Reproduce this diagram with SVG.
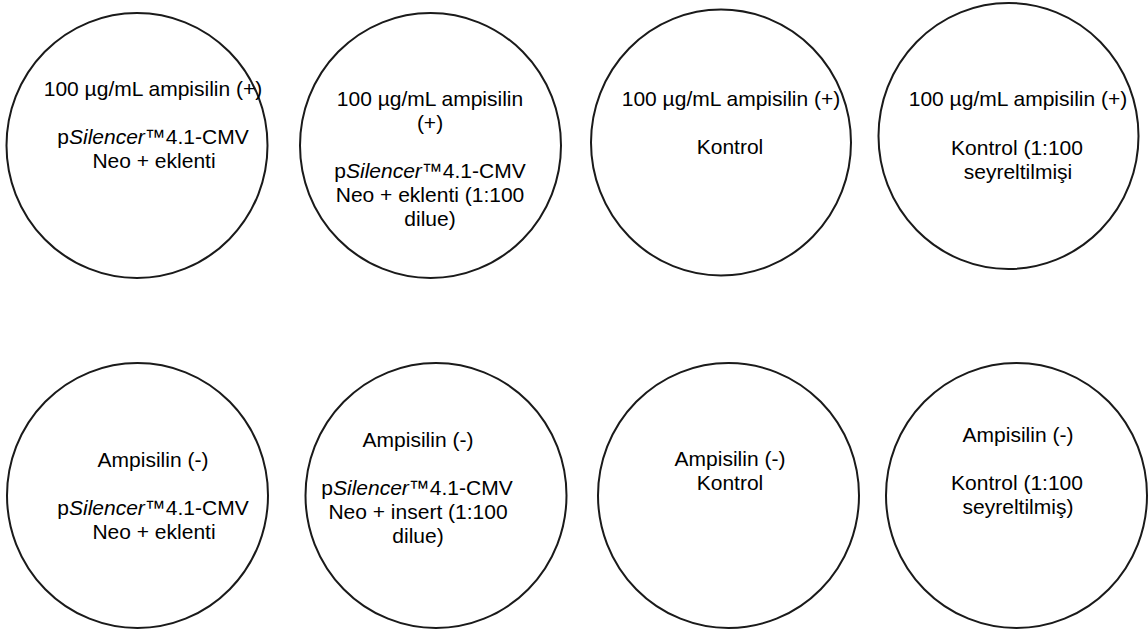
<svg xmlns="http://www.w3.org/2000/svg" width="1148" height="633" viewBox="0 0 1148 633">
<style>
.plate{fill:#ffffff;stroke:#1a1a1a;stroke-width:2}
.t{font-family:"Liberation Sans",Arial,sans-serif;font-size:21px;fill:#000000;text-anchor:middle}
.i{font-style:italic}
</style>
<rect x="0" y="0" width="1148" height="633" fill="#ffffff"/>
<g id="connectors"></g>
<g id="plate1">
<ellipse class="plate" cx="137" cy="145.5" rx="130.5" ry="132.5"/>
<text class="t" x="153" y="96">100 µg/mL ampisilin (+)</text>
<text class="t" x="153" y="144">p<tspan class="i">Silencer</tspan>™4.1-CMV</text>
<text class="t" x="154" y="168">Neo + eklenti</text>
</g>
<g id="plate2">
<ellipse class="plate" cx="430.5" cy="145.5" rx="130.5" ry="132.5"/>
<text class="t" x="430" y="106">100 µg/mL ampisilin</text>
<text class="t" x="430" y="130">(+)</text>
<text class="t" x="430" y="178">p<tspan class="i">Silencer</tspan>™4.1-CMV</text>
<text class="t" x="430" y="202">Neo + eklenti (1:100</text>
<text class="t" x="430" y="226">dilue)</text>
</g>
<g id="plate3">
<ellipse class="plate" cx="721" cy="142.5" rx="130" ry="133"/>
<text class="t" x="731" y="106">100 µg/mL ampisilin (+)</text>
<text class="t" x="730" y="154">Kontrol</text>
</g>
<g id="plate4">
<ellipse class="plate" cx="1008.5" cy="136" rx="130" ry="133"/>
<text class="t" x="1018" y="106">100 µg/mL ampisilin (+)</text>
<text class="t" x="1017" y="155">Kontrol (1:100</text>
<text class="t" x="1018" y="179">seyreltilmişi</text>
</g>
<g id="plate5">
<ellipse class="plate" cx="137.5" cy="495.5" rx="130.5" ry="132.5"/>
<text class="t" x="153" y="467">Ampisilin (-)</text>
<text class="t" x="153" y="515">p<tspan class="i">Silencer</tspan>™4.1-CMV</text>
<text class="t" x="154" y="539">Neo + eklenti</text>
</g>
<g id="plate6">
<ellipse class="plate" cx="436" cy="495.5" rx="130.5" ry="132.5"/>
<text class="t" x="418" y="447">Ampisilin (-)</text>
<text class="t" x="417" y="495">p<tspan class="i">Silencer</tspan>™4.1-CMV</text>
<text class="t" x="418" y="519">Neo + insert (1:100</text>
<text class="t" x="418" y="543">dilue)</text>
</g>
<g id="plate7">
<ellipse class="plate" cx="728.5" cy="495.5" rx="130.5" ry="132.5"/>
<text class="t" x="730" y="466">Ampisilin (-)</text>
<text class="t" x="730" y="490">Kontrol</text>
</g>
<g id="plate8">
<ellipse class="plate" cx="1016.5" cy="495.5" rx="130.5" ry="132.5"/>
<text class="t" x="1018" y="442">Ampisilin (-)</text>
<text class="t" x="1017" y="490">Kontrol (1:100</text>
<text class="t" x="1018" y="514">seyreltilmiş)</text>
</g>
</svg>
